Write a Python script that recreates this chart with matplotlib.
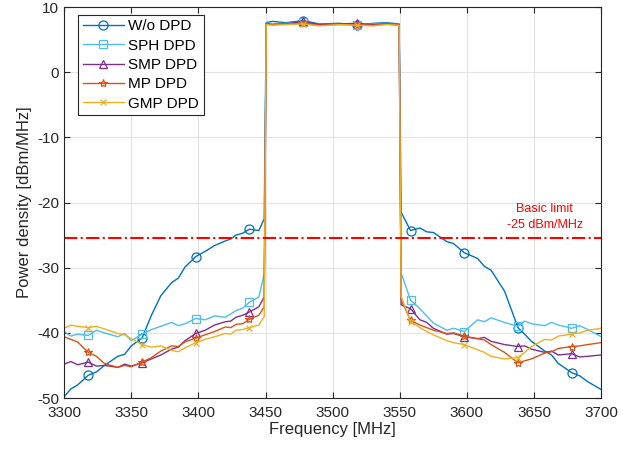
import numpy as np
import matplotlib
matplotlib.use('Agg')
import matplotlib.pyplot as plt

plt.rcParams['font.family'] = ['Liberation Sans', 'DejaVu Sans']
plt.rcParams['axes.unicode_minus'] = False

# frequency grid (MHz): lower adjacent band, channel, upper adjacent band
freq = [3300, 3305, 3310, 3318, 3324, 3330, 3340, 3345, 3350, 3358, 3365, 3372, 3380, 3385, 3390, 3398,
        3405, 3412, 3420, 3424, 3428, 3433, 3438, 3445, 3449,
        3450.5, 3455, 3465, 3478, 3490, 3505, 3518, 3530, 3540, 3549.5,
        3551, 3558, 3565, 3570, 3575, 3585, 3590, 3598, 3608, 3613, 3618, 3628, 3638, 3643, 3648, 3658,
        3663, 3668, 3678, 3684, 3690, 3700]
mark_f = [3318, 3358, 3398, 3438, 3478, 3518, 3558, 3598, 3638, 3678]

psd_wo = [-49.8, -48.6, -48.0, -46.5, -46.0, -45.0, -43.6, -43.3, -42.0, -40.8, -37.3, -34.3, -32.3, -31.6,
          -29.9, -28.3, -27.5, -26.6, -25.9, -25.6, -25.0, -24.7, -24.1, -24.3, -22.5,
          7.6, 7.8, 7.6, 7.9, 7.4, 7.5, 7.2, 7.5, 7.6, 7.4,
          -21.5, -24.3, -23.9, -24.5, -24.6, -26.0, -26.3, -27.7, -28.6, -29.8, -30.4, -33.6, -39.2,
          -40.2, -41.3, -42.8, -43.4, -44.7, -46.1, -46.6, -47.5, -48.7]
psd_sph = [-39.8, -40.5, -40.2, -40.4, -39.6, -40.0, -40.6, -40.1, -41.2, -40.2, -39.5, -39.0, -38.4, -38.9,
           -38.6, -37.8, -38.0, -37.4, -37.6, -37.1, -36.6, -36.2, -35.3, -34.5, -31.0,
           7.5, 7.4, 7.5, 7.7, 7.3, 7.4, 7.3, 7.4, 7.5, 7.3,
           -30.8, -35.0, -36.3, -37.4, -38.5, -39.6, -39.3, -39.8, -38.0, -38.3, -37.7, -38.4, -39.0,
           -38.2, -38.6, -38.9, -38.4, -38.8, -39.3, -38.9, -39.5, -40.6]
psd_smp = [-44.8, -44.4, -44.9, -44.5, -45.1, -45.0, -45.3, -44.8, -45.1, -44.6, -44.0, -43.4, -42.5, -42.2,
           -41.2, -40.1, -39.6, -38.8, -38.3, -38.2, -37.6, -37.3, -36.8, -36.0, -34.5,
           7.4, 7.3, 7.4, 7.8, 7.3, 7.4, 7.5, 7.3, 7.4, 7.3,
           -35.7, -36.3, -38.0, -38.4, -39.3, -40.2, -40.1, -40.6, -40.9, -40.7, -41.3, -41.8, -42.1,
           -42.0, -42.5, -43.0, -42.8, -43.4, -43.2, -43.7, -43.6, -43.4]
psd_mp = [-40.6, -41.0, -41.4, -43.0, -43.6, -44.7, -45.3, -45.0, -45.2, -44.5, -43.8, -42.8, -42.0, -42.1,
          -41.4, -40.8, -40.3, -39.8, -39.1, -39.2, -38.7, -38.6, -37.9, -37.3, -36.0,
          7.4, 7.3, 7.4, 7.5, 7.2, 7.3, 7.3, 7.2, 7.4, 7.2,
          -34.9, -38.1, -38.8, -39.2, -39.6, -40.1, -40.0, -40.5, -40.9, -41.1, -41.8, -43.0, -44.6,
          -44.3, -44.0, -43.1, -42.9, -42.4, -42.1, -42.0, -41.8, -41.5]
psd_gmp = [-39.3, -38.8, -39.0, -39.2, -39.0, -39.4, -40.1, -40.3, -40.9, -41.8, -42.2, -42.0, -42.7, -42.9,
           -42.3, -41.5, -41.0, -40.6, -40.1, -40.2, -39.6, -39.5, -39.2, -38.8, -37.5,
           7.3, 7.2, 7.3, 7.4, 7.1, 7.3, 7.2, 7.1, 7.3, 7.2,
           -34.4, -38.3, -39.2, -39.8, -40.3, -41.2, -41.5, -41.8, -42.6, -43.0, -43.6, -44.0, -43.8,
           -43.0, -42.1, -41.0, -41.1, -40.5, -40.2, -40.0, -39.6, -39.3]

limit_db = -25.5
labels = ['W/o DPD', 'SPH DPD', 'SMP DPD', 'MP DPD', 'GMP DPD']

series = [
    (psd_wo,  '#0072BD', 'o', 6.5, labels[0]),
    (psd_sph, '#4DBEEE', 's', 5.5, labels[1]),
    (psd_smp, '#7E2F8E', '^', 6, labels[2]),
    (psd_mp,  '#D95319', '*', 6, labels[3]),
    (psd_gmp, '#EDB120', 'x', 4.5, labels[4]),
]
mk_idx = [freq.index(f) for f in mark_f]

fig = plt.figure(figsize=(6.23, 4.53), dpi=100)
ax = fig.add_axes([0.103, 0.1214, 0.862, 0.8631])

for y, c, m, ms, lab in series:
    ax.plot(freq, y, color=c, lw=1.0, marker=m, ms=ms, mfc='none', mec=c, mew=0.9,
            markevery=mk_idx, label=lab)

ax.axhline(limit_db, color='red', ls='-.', lw=1.5)
ax.text(3658, -22.2, 'Basic limit\n-25 dBm/MHz', color='red', fontsize=9,
        ha='center', va='center', linespacing=1.45)

ax.set_xlim(3300, 3700)
ax.set_ylim(-50, 10)
ax.set_xticks(np.arange(3300, 3701, 50))
ax.set_yticks(np.arange(-50, 11, 10))
ax.grid(True, color='#e3e3e3', lw=0.8)
ax.set_axisbelow(True)
ax.tick_params(direction='in', top=True, right=True, labelsize=11, colors='#262626', length=4)
ax.tick_params(axis='x', pad=6)
for s in ax.spines.values():
    s.set_color('#262626')
    s.set_linewidth(0.8)
ax.set_xlabel('Frequency [MHz]', fontsize=12, color='#262626', labelpad=1)
ax.set_ylabel('Power density [dBm/MHz]', fontsize=12, color='#262626', labelpad=4)

leg = ax.legend(loc='upper left', bbox_to_anchor=(0.02, 0.988), fontsize=11,
                fancybox=False, edgecolor='#262626', framealpha=1, handlelength=2.7,
                borderpad=0.3, labelspacing=0.35, handletextpad=0.3, borderaxespad=0.2)
leg.get_frame().set_linewidth(0.8)

plt.savefig('out.png', dpi=100)
